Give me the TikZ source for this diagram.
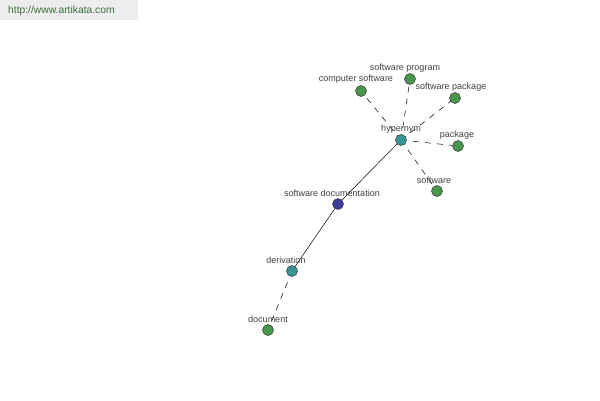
\documentclass[tikz,border=0pt]{standalone}
\usepackage{fontspec}
\setmainfont{Liberation Sans}
\begin{document}
\begin{tikzpicture}[x=1pt,y=-1pt,
  dot/.style={circle,draw=black!80,line width=0.5pt,minimum size=11pt,inner sep=0pt},
  gdot/.style={dot,fill={rgb,255:red,74;green,150;blue,74}},
  tdot/.style={dot,fill={rgb,255:red,58;green,148;blue,150}},
  bdot/.style={dot,fill={rgb,255:red,60;green,60;blue,154}},
  lbl/.style={font=\fontsize{9}{11}\selectfont,text=black!75,inner sep=0pt},
  dashedge/.style={draw=black,dashed,dash pattern=on 6pt off 6pt,line width=0.5pt},
  solidedge/.style={draw=black,line width=0.5pt}]
\useasboundingbox (0,0) rectangle (600,400);
\fill[black!7] (0,0) rectangle (138,20);
\node[anchor=west,inner sep=0pt,font=\fontsize{10.3}{12}\selectfont,text={rgb,255:red,60;green,110;blue,60}] (url) at (8,11) {http://www.artikata.com};
% nodes
\coordinate (hyp) at (401,140);
\coordinate (cs) at (361,91);
\coordinate (sp) at (410,79);
\coordinate (spk) at (455,98);
\coordinate (pk) at (458,146);
\coordinate (sw) at (437,191);
\coordinate (sd) at (338,204);
\coordinate (der) at (292,271);
\coordinate (doc) at (268,330);
% edges
\draw[dashedge] (hyp) -- (cs);
\draw[dashedge] (hyp) -- (sp);
\draw[dashedge] (hyp) -- (spk);
\draw[dashedge] (hyp) -- (pk);
\draw[dashedge] (hyp) -- (sw);
\draw[solidedge] (hyp) -- (sd);
\draw[solidedge] (sd) -- (der);
\draw[dashedge] (der) -- (doc);
% dots
\node[gdot] (ncs) at (cs) {};
\node[gdot] (nsp) at (sp) {};
\node[gdot] (nspk) at (spk) {};
\node[gdot] (npk) at (pk) {};
\node[gdot] (nsw) at (sw) {};
\node[gdot] (ndoc) at (doc) {};
\node[tdot] (nhyp) at (hyp) {};
\node[tdot] (nder) at (der) {};
\node[bdot] (nsd) at (sd) {};
% labels
\node[lbl] (lhyp) at (401,129) {hypernym};
\node[lbl] (lcs) at (356,79) {computer software};
\node[lbl] (lsp) at (405,68) {software program};
\node[lbl] (lspk) at (451,87) {software package};
\node[lbl] (lpk) at (457,135) {package};
\node[lbl] (lsw) at (434,180) {software};
\node[lbl] (lsd) at (332,193) {software documentation};
\node[lbl] (lder) at (286,260) {derivation};
\node[lbl] (ldoc) at (268,319) {document};
\end{tikzpicture}
\end{document}
